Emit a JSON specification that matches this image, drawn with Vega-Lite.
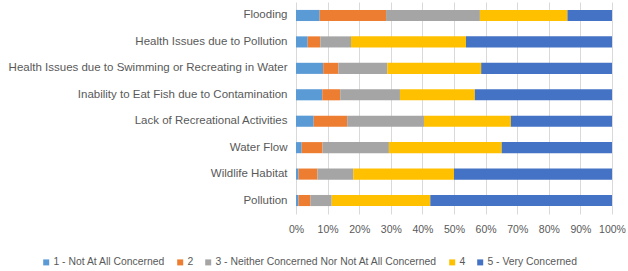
{
  "$schema": "https://vega.github.io/schema/vega-lite/v6.json",
  "width": 316,
  "height": 212,
  "autosize": "none",
  "padding": {"left": 296, "top": 2, "right": 16, "bottom": 57},
  "background": "white",
  "config": {
    "view": {"stroke": null},
    "font": "Liberation Sans",
    "axis": {"labelFont": "Liberation Sans", "labelColor": "#595959"}
  },
  "data": {
    "values": [
      {"issue": "Flooding", "level": "1 - Not At All Concerned", "k": 1, "pct": 7.5},
      {"issue": "Flooding", "level": "2", "k": 2, "pct": 21.0},
      {"issue": "Flooding", "level": "3 - Neither Concerned Nor Not At All Concerned", "k": 3, "pct": 29.7},
      {"issue": "Flooding", "level": "4", "k": 4, "pct": 27.7},
      {"issue": "Flooding", "level": "5 - Very Concerned", "k": 5, "pct": 14.1},
      {"issue": "Health Issues due to Pollution", "level": "1 - Not At All Concerned", "k": 1, "pct": 3.7},
      {"issue": "Health Issues due to Pollution", "level": "2", "k": 2, "pct": 4.0},
      {"issue": "Health Issues due to Pollution", "level": "3 - Neither Concerned Nor Not At All Concerned", "k": 3, "pct": 9.7},
      {"issue": "Health Issues due to Pollution", "level": "4", "k": 4, "pct": 36.4},
      {"issue": "Health Issues due to Pollution", "level": "5 - Very Concerned", "k": 5, "pct": 46.2},
      {"issue": "Health Issues due to Swimming or Recreating in Water", "level": "1 - Not At All Concerned", "k": 1, "pct": 8.6},
      {"issue": "Health Issues due to Swimming or Recreating in Water", "level": "2", "k": 2, "pct": 4.8},
      {"issue": "Health Issues due to Swimming or Recreating in Water", "level": "3 - Neither Concerned Nor Not At All Concerned", "k": 3, "pct": 15.5},
      {"issue": "Health Issues due to Swimming or Recreating in Water", "level": "4", "k": 4, "pct": 29.7},
      {"issue": "Health Issues due to Swimming or Recreating in Water", "level": "5 - Very Concerned", "k": 5, "pct": 41.4},
      {"issue": "Inability to Eat Fish due to Contamination", "level": "1 - Not At All Concerned", "k": 1, "pct": 8.3},
      {"issue": "Inability to Eat Fish due to Contamination", "level": "2", "k": 2, "pct": 5.7},
      {"issue": "Inability to Eat Fish due to Contamination", "level": "3 - Neither Concerned Nor Not At All Concerned", "k": 3, "pct": 18.9},
      {"issue": "Inability to Eat Fish due to Contamination", "level": "4", "k": 4, "pct": 23.7},
      {"issue": "Inability to Eat Fish due to Contamination", "level": "5 - Very Concerned", "k": 5, "pct": 43.4},
      {"issue": "Lack of Recreational Activities", "level": "1 - Not At All Concerned", "k": 1, "pct": 5.6},
      {"issue": "Lack of Recreational Activities", "level": "2", "k": 2, "pct": 10.6},
      {"issue": "Lack of Recreational Activities", "level": "3 - Neither Concerned Nor Not At All Concerned", "k": 3, "pct": 24.3},
      {"issue": "Lack of Recreational Activities", "level": "4", "k": 4, "pct": 27.5},
      {"issue": "Lack of Recreational Activities", "level": "5 - Very Concerned", "k": 5, "pct": 32.0},
      {"issue": "Water Flow", "level": "1 - Not At All Concerned", "k": 1, "pct": 1.8},
      {"issue": "Water Flow", "level": "2", "k": 2, "pct": 6.6},
      {"issue": "Water Flow", "level": "3 - Neither Concerned Nor Not At All Concerned", "k": 3, "pct": 21.0},
      {"issue": "Water Flow", "level": "4", "k": 4, "pct": 35.7},
      {"issue": "Water Flow", "level": "5 - Very Concerned", "k": 5, "pct": 34.9},
      {"issue": "Wildlife Habitat", "level": "1 - Not At All Concerned", "k": 1, "pct": 0.8},
      {"issue": "Wildlife Habitat", "level": "2", "k": 2, "pct": 6.0},
      {"issue": "Wildlife Habitat", "level": "3 - Neither Concerned Nor Not At All Concerned", "k": 3, "pct": 11.3},
      {"issue": "Wildlife Habitat", "level": "4", "k": 4, "pct": 31.9},
      {"issue": "Wildlife Habitat", "level": "5 - Very Concerned", "k": 5, "pct": 50.0},
      {"issue": "Pollution", "level": "1 - Not At All Concerned", "k": 1, "pct": 0.8},
      {"issue": "Pollution", "level": "2", "k": 2, "pct": 3.8},
      {"issue": "Pollution", "level": "3 - Neither Concerned Nor Not At All Concerned", "k": 3, "pct": 6.7},
      {"issue": "Pollution", "level": "4", "k": 4, "pct": 31.2},
      {"issue": "Pollution", "level": "5 - Very Concerned", "k": 5, "pct": 57.5}
    ]
  },
  "mark": {"type": "bar"},
  "encoding": {
    "y": {
      "field": "issue", "type": "nominal", "sort": null,
      "scale": {"paddingInner": 0.58, "paddingOuter": 0.3},
      "axis": {"title": null, "domain": false, "ticks": false, "labelPadding": 9, "labelLimit": 300, "labelFontSize": 11.5}
    },
    "x": {
      "field": "pct", "type": "quantitative", "stack": "normalize",
      "scale": {"domain": [0, 1], "nice": false},
      "axis": {"title": null, "format": ".0%", "values": [0, 0.1, 0.2, 0.3, 0.4, 0.5, 0.6, 0.7, 0.8, 0.9, 1], "domain": false, "ticks": false, "grid": true, "gridColor": "#D9D9D9", "labelPadding": 10, "labelFontSize": 10.5, "labelOverlap": false, "labelFlush": false}
    },
    "color": {
      "field": "level", "type": "nominal",
      "scale": {
        "domain": ["1 - Not At All Concerned", "2", "3 - Neither Concerned Nor Not At All Concerned", "4", "5 - Very Concerned"],
        "range": ["#5B9BD5", "#ED7D31", "#A5A5A5", "#FFC000", "#4472C4"]
      },
      "legend": {
        "title": null, "orient": "none", "legendX": -255, "legendY": 255, "direction": "horizontal",
        "symbolType": "square", "symbolSize": 36, "symbolStrokeWidth": 0,
        "labelFont": "Liberation Sans", "labelFontSize": 10.4, "labelColor": "#595959",
        "labelLimit": 400, "columnPadding": 9, "labelOffset": 2
      }
    },
    "order": {"field": "k", "type": "quantitative"}
  }
}
